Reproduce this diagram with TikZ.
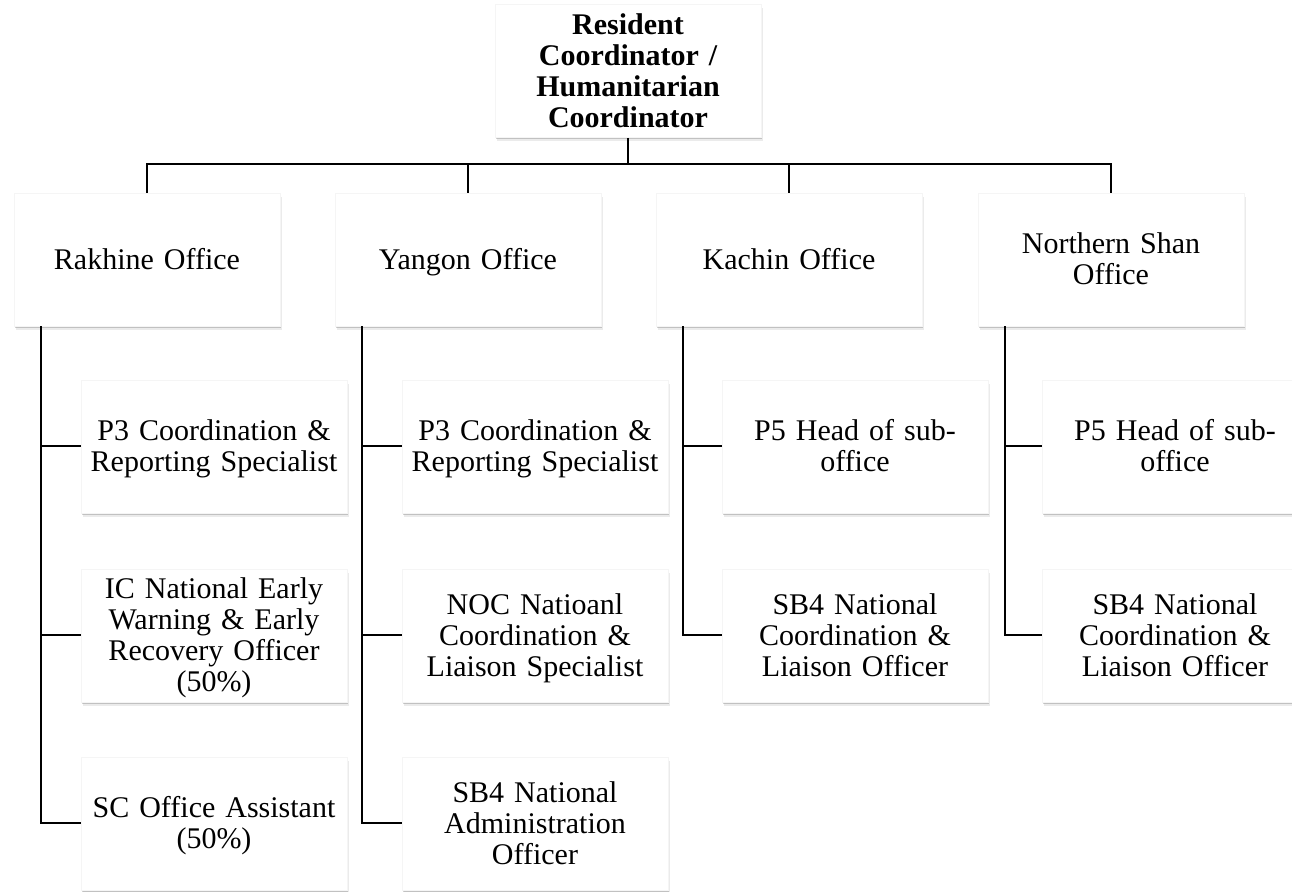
\documentclass[tikz,border=0pt]{standalone}
\usepackage{fontspec}
\setmainfont{Liberation Serif}
\usepackage{tikz}
\usetikzlibrary{calc,shadows}
\newcommand{\boxwidth}{133pt}
\newcommand{\boxheight}{66.5pt}
\newcommand{\linethick}{1pt}
\newcommand{\boxfont}{\fontsize{15pt}{15.5pt}\selectfont}
\newcommand{\topstrut}{\rule{0pt}{14pt}}
\newcommand{\bottomstrut}{\rule[-4pt]{0pt}{0pt}}
\tikzset{
  unit/.style={draw=black!4, fill=white, minimum width=\boxwidth, minimum height=\boxheight,
    text width=131pt, align=center, inner sep=0pt, font=\boxfont,
    execute at begin node=\topstrut, execute at end node=\bottomstrut,
    drop shadow={shadow xshift=0.4pt, shadow yshift=-0.9pt, fill=black, opacity=0.18},
    drop shadow={shadow xshift=0.8pt, shadow yshift=-1.8pt, fill=black, opacity=0.08}},
  link/.style={line width=\linethick, black}
}

\begin{document}
\begin{tikzpicture}[x=0.5pt, y=-0.5pt]
\useasboundingbox (0,0) rectangle (1292,892);
\clip (0,0) rectangle (1292,892);
%top
\node[unit, font=\bfseries\boxfont] (rc) at (628,71) {Resident\\Coordinator /\\Humanitarian\\Coordinator};
%offices
\node[unit] (rak) at (147,259.5) {Rakhine Office};
\node[unit] (yan) at (468,259.5) {Yangon Office};
\node[unit] (kac) at (789,259.5) {Kachin Office};
\node[unit] (nsh) at (1111,259.5) {Northern Shan\\Office};
%rakhine
\node[unit] (rak1) at (214,446.5) {P3 Coordination \&\\Reporting Specialist};
\node[unit] (rak2) at (214,635.5) {IC National Early\\Warning \& Early\\Recovery Officer\\(50\%)};
\node[unit] (rak3) at (214,823.5) {SC Office Assistant\\(50\%)};
%yangon
\node[unit] (yan1) at (535,446.5) {P3 Coordination \&\\Reporting Specialist};
\node[unit] (yan2) at (535,635.5) {NOC Natioanl\\Coordination \&\\Liaison Specialist};
\node[unit] (yan3) at (535,823.5) {SB4 National\\Administration\\Officer};
%kachin
\node[unit] (kac1) at (855,446.5) {P5 Head of sub-\\office};
\node[unit] (kac2) at (855,635.5) {SB4 National\\Coordination \&\\Liaison Officer};
%northern shan
\node[unit] (nsh1) at (1175,446.5) {P5 Head of sub-\\office};
\node[unit] (nsh2) at (1175,635.5) {SB4 National\\Coordination \&\\Liaison Officer};
%bus
\coordinate (bus) at (628,164);
\draw[link] (rc.south) -- (bus);
\foreach \o in {rak,yan,kac,nsh}
  \draw[link] (bus) -| (\o.north);
%spines
\foreach \o in {rak,yan,kac,nsh}
  \coordinate (spine-\o) at ($(\o.south west)+(27,0)$);
\draw[link] (spine-rak) |- (rak3.west);
\draw[link] (spine-rak |- rak1.west) -- (rak1.west);
\draw[link] (spine-rak |- rak2.west) -- (rak2.west);
\draw[link] (spine-yan) |- (yan3.west);
\draw[link] (spine-yan |- yan1.west) -- (yan1.west);
\draw[link] (spine-yan |- yan2.west) -- (yan2.west);
\draw[link] (spine-kac) |- (kac2.west);
\draw[link] (spine-kac |- kac1.west) -- (kac1.west);
\draw[link] (spine-nsh) |- (nsh2.west);
\draw[link] (spine-nsh |- nsh1.west) -- (nsh1.west);
\end{tikzpicture}
\end{document}
